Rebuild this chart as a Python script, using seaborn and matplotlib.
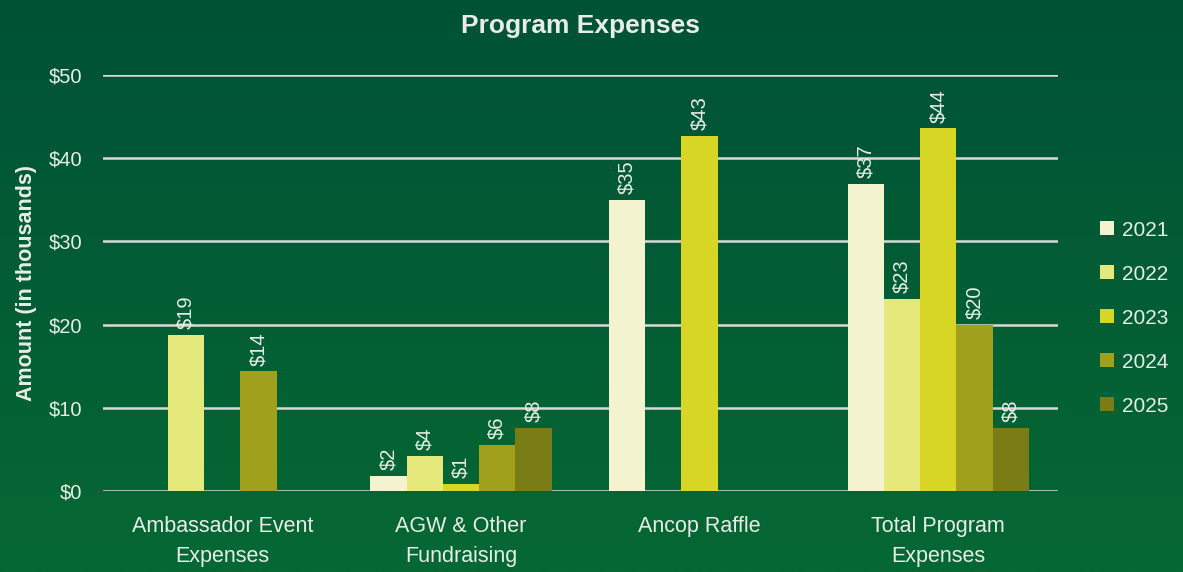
import numpy as np
import pandas as pd
import matplotlib
matplotlib.use("Agg")
import matplotlib.pyplot as plt
import seaborn as sns
from matplotlib.colors import LinearSegmentedColormap

# chart data (amounts in thousands of dollars)
categories = ["Ambassador Event\nExpenses", "AGW & Other\nFundraising", "Ancop Raffle", "Total Program\nExpenses"]
years = ["2021", "2022", "2023", "2024", "2025"]
amounts = {
    "2021": [0, 1.9, 35.0, 36.9],
    "2022": [18.8, 4.3, 0, 23.1],
    "2023": [0, 0.9, 42.7, 43.6],
    "2024": [14.4, 5.6, 0, 20.0],
    "2025": [0, 7.6, 0, 7.6],
}
colors = ["#F3F3CF", "#E5E87A", "#D7D625", "#A0A01D", "#7A7C16"]

rows = []
for y in years:
    for c, v in zip(categories, amounts[y]):
        rows.append({"category": c, "year": y, "amount": v})
df = pd.DataFrame(rows)

sns.set_style("white")
plt.rcParams["font.family"] = ["Liberation Sans", "DejaVu Sans"]
txt = "#E8EEE6"

fig = plt.figure(figsize=(11.83, 5.72), dpi=100)

# green gradient background
bg = fig.add_axes([0, 0, 1, 1], zorder=-1)
cmap = LinearSegmentedColormap.from_list("bg", ["#005236", "#066833"])
bg.imshow(np.linspace(0, 1, 256).reshape(-1, 1), aspect="auto", cmap=cmap)
bg.axis("off")

ax = fig.add_axes([0.087, 0.141, 0.807, 0.728])
ax.set_facecolor("none")

sns.barplot(data=df, x="category", y="amount", hue="year", palette=colors,
            saturation=1, width=0.76, linewidth=0, ax=ax, zorder=3)

for cont in ax.containers:
    labels = [f"${v:.0f}" if v > 0 else "" for v in cont.datavalues]
    ax.bar_label(cont, labels=labels, rotation=90, padding=4, color=txt, fontsize=14.5)

ax.set_ylim(0, 50)
ax.set_yticks(range(0, 51, 10))
ax.set_yticklabels([f"${t}" for t in range(0, 51, 10)], color=txt, fontsize=14.5)
ax.tick_params(axis="x", colors=txt, labelsize=15.5, length=0, pad=18)
for lab in ax.get_xticklabels():
    lab.set_linespacing(1.55)
ax.tick_params(axis="y", length=0, pad=15)
ax.yaxis.grid(True, color="#D9D9D9", linewidth=1.8, zorder=0)
ax.set_axisbelow(True)
for s in ax.spines.values():
    s.set_visible(False)
ax.set_xlabel("")
ax.set_ylabel("Amount (in thousands)", color=txt, fontsize=15.5, fontweight="bold", labelpad=8)
ax.set_xlim(-0.5, 3.5)

ax.set_title("Program Expenses", color=txt, fontsize=19, fontweight="bold", pad=30)

leg = ax.legend(loc="center left", bbox_to_anchor=(1.025, 0.416), frameon=False,
                fontsize=15, labelspacing=1.2, handlelength=0.65, handleheight=0.65,
                handletextpad=0.4)
for t in leg.get_texts():
    t.set_color(txt)

fig.savefig("out.png", dpi=100)
